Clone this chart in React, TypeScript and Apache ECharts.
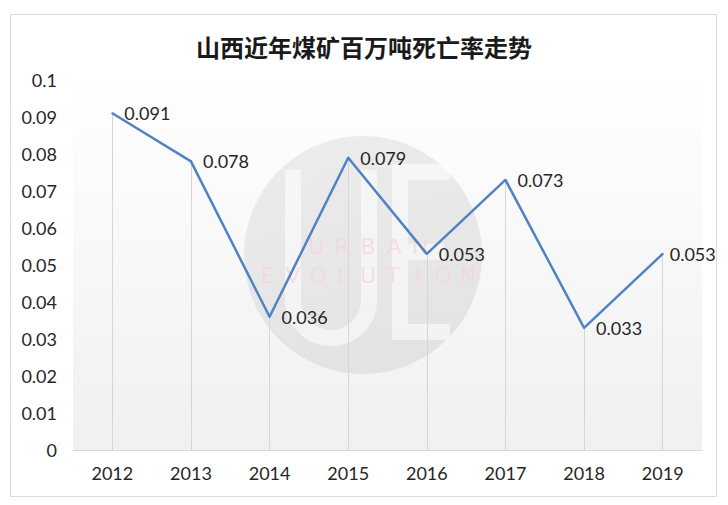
import React, { useEffect, useRef } from "react";
import * as echarts from "echarts";

const titleText = "山西近年煤矿百万吨死亡率走势";
const years = ["2012", "2013", "2014", "2015", "2016", "2017", "2018", "2019"];
const rates = [0.091, 0.078, 0.036, 0.079, 0.053, 0.073, 0.033, 0.053];
const yMin = 0;
const yMax = 0.1;
const yStep = 0.01;
const wmLine1 = "URBAN";
const wmLine2 = "EVOLUTION";

echarts.graphic.registerShape(
  "wmU",
  echarts.graphic.extendPath("M 0 0 L 0 130 A 38 38 0 0 0 76 130 L 76 0", {})
);
echarts.graphic.registerShape(
  "wmE",
  echarts.graphic.extendPath("M 50 0 L 0 0 L 0 160 L 50 160 M 0 80 L 44 80", {})
);

export default function App() {
  const ref = useRef<HTMLDivElement>(null);
  useEffect(() => {
    document.body.style.margin = "0";
    const chart = echarts.init(ref.current!, undefined, { renderer: "svg" });
    const font = "Lato, 'Noto Sans', sans-serif";

    const letters: any[] = [];
    wmLine1.split("").forEach((ch, i) => {
      letters.push({
        type: "text",
        z: 2,
        silent: true,
        style: {
          text: ch,
          x: 316 + i * 26,
          y: 246,
          fill: "rgba(246,212,226,0.75)",
          font: "22px 'DejaVu Sans', sans-serif",
          align: "center",
          verticalAlign: "middle",
        },
      });
    });
    wmLine2.split("").forEach((ch, i) => {
      letters.push({
        type: "text",
        z: 2,
        silent: true,
        style: {
          text: ch,
          x: 268 + i * 25,
          y: 275,
          fill: "rgba(246,212,226,0.75)",
          font: "22px 'DejaVu Sans', sans-serif",
          align: "center",
          verticalAlign: "middle",
        },
      });
    });

    const seriesData = rates.map((v, i) =>
      i === rates.length - 1 ? { value: v, label: { distance: 6 } } : v
    );

    chart.setOption({
      animation: false,
      backgroundColor: "#ffffff",
      title: {
        text: titleText,
        left: "center",
        top: 29,
        textStyle: {
          fontFamily: "'Noto Sans CJK SC', sans-serif",
          fontSize: 24,
          fontWeight: "bold",
          color: "#1a1a1a",
        },
      },
      graphic: [
        {
          type: "rect",
          z: 0,
          silent: true,
          shape: { x: 10.5, y: 14.5, width: 706, height: 482 },
          style: { fill: "none", stroke: "#d9d9d9", lineWidth: 1 },
        },
        {
          type: "rect",
          z: 0,
          silent: true,
          shape: { x: 73, y: 70, width: 629, height: 380 },
          style: {
            fill: new echarts.graphic.LinearGradient(0, 0, 0, 1, [
              { offset: 0, color: "#ffffff" },
              { offset: 1, color: "#f0f0f0" },
            ]),
          },
        },
        {
          type: "circle",
          z: 1,
          silent: true,
          shape: { cx: 363, cy: 255, r: 119 },
          style: {
            fill: new echarts.graphic.LinearGradient(0, 0, 1, 1, [
              { offset: 0, color: "rgba(200,200,200,0.3)" },
              { offset: 1, color: "rgba(185,185,185,0.3)" },
            ]),
          },
        },
        {
          type: "wmU",
          z: 1,
          silent: true,
          x: 293,
          y: 170,
          style: { fill: "none", stroke: "rgba(255,255,255,0.55)", lineWidth: 16 },
        },
        {
          type: "wmE",
          z: 1,
          silent: true,
          x: 400,
          y: 172,
          style: { fill: "none", stroke: "rgba(255,255,255,0.55)", lineWidth: 16 },
        },
        ...letters,
      ],
      grid: { left: 73, right: 26, top: 80, bottom: 55, containLabel: false },
      xAxis: {
        type: "category",
        data: years,
        boundaryGap: true,
        axisLine: { show: true, lineStyle: { color: "#d9d9d9", width: 1 } },
        axisTick: { show: false },
        splitLine: { show: false },
        axisLabel: {
          color: "#262626",
          fontFamily: font,
          fontSize: 18,
          margin: 14,
        },
      },
      yAxis: {
        type: "value",
        min: yMin,
        max: yMax,
        interval: yStep,
        axisLine: { show: false },
        axisTick: { show: false },
        splitLine: { show: false },
        axisLabel: {
          color: "#262626",
          fontFamily: font,
          fontSize: 18,
          margin: 16,
          formatter: (v: number) => String(parseFloat(v.toFixed(3))),
        },
      },
      series: [
        {
          type: "line",
          data: seriesData,
          symbol: "circle",
          symbolSize: 2,
          showSymbol: true,
          z: 3,
          lineStyle: { color: "#5083c3", width: 2.5 },
          itemStyle: { color: "#5083c3" },
          label: {
            show: true,
            position: "right",
            distance: 11,
            color: "#262626",
            fontFamily: font,
            fontSize: 18,
            formatter: (p: any) => String(p.value),
          },
          markLine: {
            silent: true,
            symbol: ["none", "none"],
            z: 2,
            label: { show: false },
            lineStyle: { color: "#d6d6d6", type: "solid", width: 1 },
            data: rates.map((v, i) => [
              { coord: [i, 0] },
              { coord: [i, v] },
            ]),
          },
        },
      ],
    });
    return () => chart.dispose();
  }, []);
  return <div ref={ref} style={{ width: 728, height: 505 }} />;
}
